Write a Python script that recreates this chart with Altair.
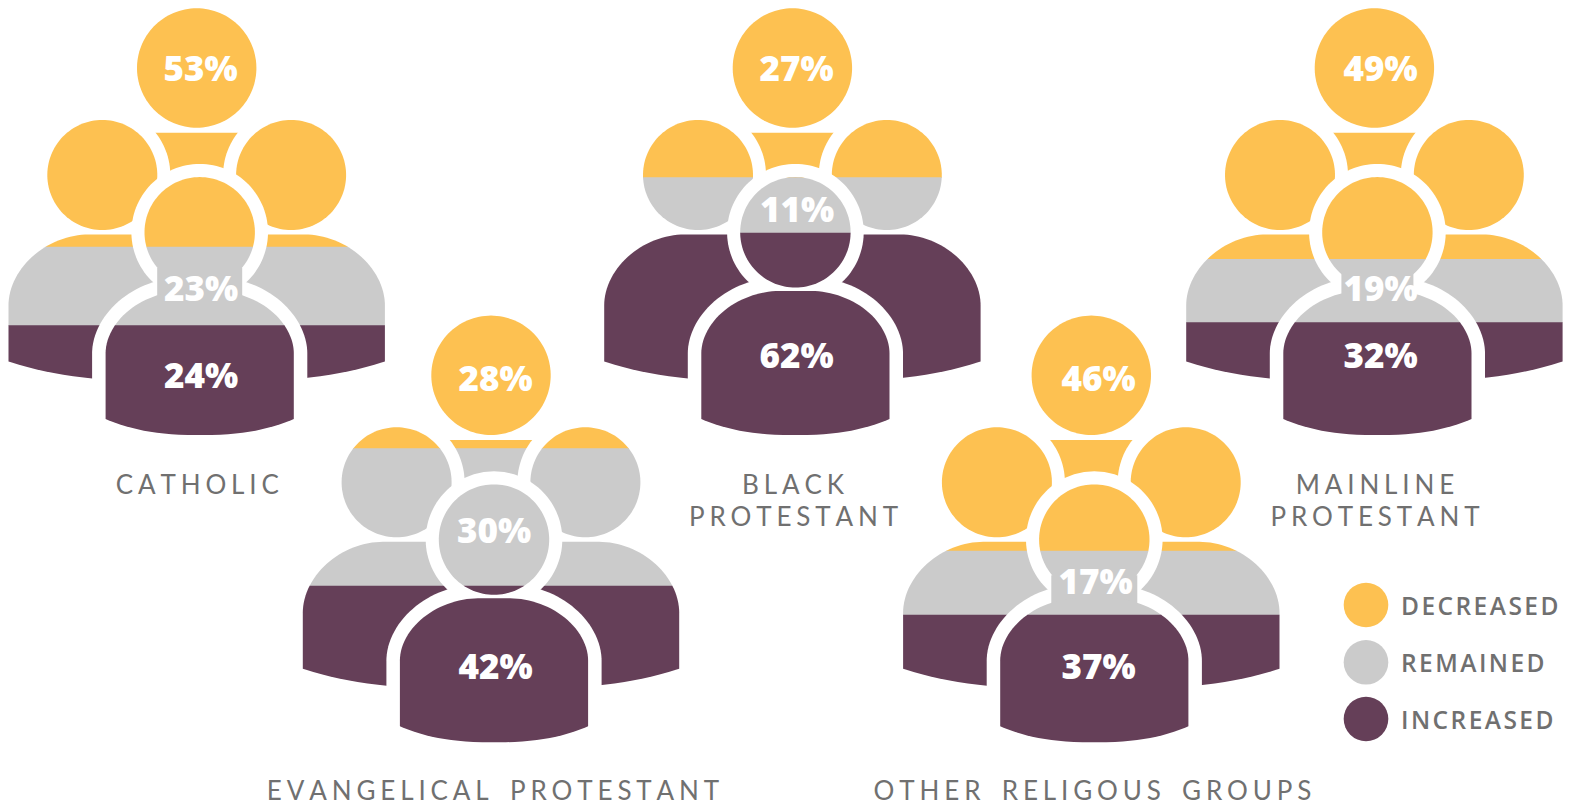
import math

import altair as alt
import numpy as np
import pandas as pd

# Survey shares per religious group, in percent
GROUPS = ["CATHOLIC", "BLACK PROTESTANT", "MAINLINE PROTESTANT",
          "EVANGELICAL PROTESTANT", "OTHER RELIGOUS GROUPS"]
DECREASED = [53, 27, 49, 28, 46]
REMAINED = [23, 11, 19, 30, 17]
INCREASED = [24, 62, 32, 42, 37]

BANDS = ["DECREASED", "REMAINED", "INCREASED"]
COLORS = ["#FDC151", "#CBCBCB", "#653F58"]

# Placement of each people icon and the height where its colour bands change
ICON_CX = [196.7, 792.4, 1374.4, 491.0, 1091.3]
ICON_DY = [0.0, 0.0, 0.0, 307.3, 307.3]
BAND_EDGE_1 = [246.7, 177.3, 259.0, 448.3, 550.7]
BAND_EDGE_2 = [325.3, 232.7, 322.3, 585.7, 614.7]
NECK_HALF = [42.5, 0, 36, 0, 43]

# Anchors of the percentage labels: (x, y) per band per group
PCT_DEC_XY = [(200.5, 69.5), (796.5, 69.5), (1380.5, 69.5), (495.5, 379.5), (1098.5, 379.5)]
PCT_REM_XY = [(201, 289.5), (797.2, 210.5), (1380.5, 290), (494, 531.7), (1095.5, 582.5)]
PCT_INC_XY = [(201, 377), (796.5, 357), (1380.5, 357), (495.5, 667.5), (1098.5, 667.5)]

# Group captions, one row per line of text
CAPTIONS = [
    ("CATHOLIC", 197.3, 494),
    ("BLACK", 793, 494),
    ("PROTESTANT", 793.5, 526),
    ("MAINLINE", 1375, 494),
    ("PROTESTANT", 1375, 526),
    ("EVANGELICAL PROTESTANT", 493, 800),
    ("OTHER RELIGOUS GROUPS", 1092.5, 800),
]

# Colour key rows: label, centre of the swatch
KEY_Y = [605, 662.3, 719]
KEY_SWATCH_X = 1366
KEY_LABEL_X = 1401

HAIR = "\u200a"
GAP = "\u2009\u200a"


def spaced(text):
    # Vega has no letter-spacing, so the tracking comes from narrow spaces
    return (GAP + " " + GAP + GAP).join(GAP.join(word) for word in text.split(" "))


def circle(cx, cy, r):
    def fn(y):
        half = math.sqrt(max(r * r - (y - cy) ** 2, 0))
        return cx - half, cx + half
    return fn, cy - r, cy + r, []


def block(cx, half, top, bottom):
    return (lambda y: (cx - half, cx + half)), top, bottom, []


def body(cx, hw, a, n, top, shoulder, edge, bottom, hem=2.5):
    # Rounded shoulders, straight sides and a shallow curved hem
    def fn(y):
        if y < shoulder:
            dy = min((shoulder - y) / (shoulder - top), 1)
            half = hw - a * (1 - (1 - dy ** n) ** (1 / n))
        elif y <= edge:
            half = hw
        else:
            half = hw * max(1 - (y - edge) / (bottom - edge), 0) ** (1 / hem)
        return cx - half, cx + half
    return fn, top, bottom, [shoulder, edge]


def rows(shape, low, high, piece, band=None, samples=64):
    fn, top, bottom, breaks = shape
    low, high = max(low, top), min(high, bottom)
    if high <= low:
        return []
    t = np.linspace(0, math.pi, samples)
    mid, span = (top + bottom) / 2, (bottom - top) / 2
    ys = set((mid - span * np.cos(t)).round(2).tolist()) | set(breaks) | {low, high}
    out = []
    for y in sorted(v for v in ys if low <= v <= high):
        x0, x1 = fn(y)
        out.append({"piece": piece, "band": band, "y": round(y, 2),
                    "x0": round(x0, 2), "x1": round(x1, 2)})
    return out


def banded(shape, piece, edge1, edge2):
    # Each band runs slightly under the next so no seam shows between them
    limits = [-1e6, edge1, edge2, 1e6]
    out = []
    for i, band in enumerate(BANDS):
        stop = limits[i + 1] + (0.6 if i < 2 else 0)
        out += rows(shape, limits[i], stop, f"{piece}-{i}", band)
    return out


shoulders_rows, head_halo_rows, back_rows, front_halo_rows, front_rows = [], [], [], [], []

for g, (cx, dy, e1, e2, neck) in enumerate(zip(ICON_CX, ICON_DY, BAND_EDGE_1, BAND_EDGE_2, NECK_HALF)):
    fx = cx + 3.0
    left_x, right_x = cx - 94.4, cx + 94.4
    head_y = 175 + dy

    # Rear figure's torso, showing between the two side heads
    shoulders_rows += banded(block(cx, 62, 132.7 + dy, 178 + dy), f"{g}-torso", e1, e2)
    head_halo_rows += rows(circle(left_x, head_y, 68), -1e6, 1e6, f"{g}-hl")
    head_halo_rows += rows(circle(right_x, head_y, 68), -1e6, 1e6, f"{g}-hr")

    back_rows += banded(circle(cx, 68 + dy, 59.7), f"{g}-top", e1, e2)
    back_rows += banded(circle(left_x, head_y, 55), f"{g}-left", e1, e2)
    back_rows += banded(circle(right_x, head_y, 55), f"{g}-right", e1, e2)
    back_rows += banded(body(cx, 188.2, 80, 1.9, 234.5 + dy, 305 + dy, 361.5 + dy, 382 + dy, hem=3),
                        f"{g}-backbody", e1, e2)

    front_halo_rows += rows(circle(fx, 232.3 + dy, 68.3), -1e6, 1e6, f"{g}-fh")
    front_halo_rows += rows(body(fx, 107.6, 90, 1.9, 277.4 + dy, 353 + dy, 419 + dy, 436 + dy),
                            -1e6, 1e6, f"{g}-fb")

    front_rows += banded(circle(fx, 232.3 + dy, 55.2), f"{g}-fronthead", e1, e2)
    if neck:
        front_rows += banded(block(fx, neck, 268 + dy, 296 + dy), f"{g}-neck", e1, e2)
    front_rows += banded(body(fx, 94.1, 78, 1.9, 291 + dy, 353 + dy, 419 + dy, 435 + dy),
                         f"{g}-frontbody", e1, e2)

x_scale = alt.Scale(domain=[0, 1578], nice=False, zero=False)
y_scale = alt.Scale(domain=[805, 0], nice=False, zero=False)
band_color = alt.Color("band:N", scale=alt.Scale(domain=BANDS, range=COLORS), legend=None)
x_enc = alt.X("x:Q", scale=x_scale, axis=None)
y_enc = alt.Y("y:Q", scale=y_scale, axis=None)


def silhouettes(records, color):
    return alt.Chart(pd.DataFrame(records)).mark_area(orient="horizontal", strokeWidth=0).encode(
        x=alt.X("x0:Q", scale=x_scale, axis=None),
        x2="x1:Q",
        y=alt.Y("y:Q", scale=y_scale, axis=None),
        detail="piece:N",
        color=color,
    )


white = alt.value("#FFFFFF")

pct_records = []
for values, anchors in ((DECREASED, PCT_DEC_XY), (REMAINED, PCT_REM_XY), (INCREASED, PCT_INC_XY)):
    for value, (px, py) in zip(values, anchors):
        pct_records.append({"label": f"{value}%", "x": px, "y": py})

percents = alt.Chart(pd.DataFrame(pct_records)).mark_text(
    font="Open Sans", fontWeight=800, fontSize=35, color="#FFFFFF", align="center", baseline="middle"
).encode(x=x_enc, y=y_enc, text="label:N")

captions = alt.Chart(pd.DataFrame(
    [{"label": spaced(t), "x": x, "y": y} for t, x, y in CAPTIONS]
)).mark_text(
    font="Lato", fontSize=26, color="#707070", align="center", baseline="alphabetic"
).encode(x=x_enc, y=y_enc, text="label:N")

key = pd.DataFrame({
    "band": BANDS,
    "label": [HAIR.join(b) for b in BANDS],
    "y": KEY_Y,
    "x": KEY_SWATCH_X,
    "tx": KEY_LABEL_X,
})
key_swatches = alt.Chart(key).mark_circle(size=1990, opacity=1).encode(x=x_enc, y=y_enc, color=band_color)
key_labels = alt.Chart(key).transform_calculate(ty="datum.y + 9.5").mark_text(
    font="Open Sans", fontWeight=600, fontSize=24.5, color="#707070", align="left", baseline="alphabetic"
).encode(
    x=alt.X("tx:Q", scale=x_scale, axis=None),
    y=alt.Y("ty:Q", scale=y_scale, axis=None),
    text="label:N",
)

chart = alt.layer(
    silhouettes(shoulders_rows, band_color),
    silhouettes(head_halo_rows, white),
    silhouettes(back_rows, band_color),
    silhouettes(front_halo_rows, white),
    silhouettes(front_rows, band_color),
    percents,
    captions,
    key_swatches,
    key_labels,
).properties(
    width=1578, height=805, padding=0, background="#FFFFFF",
    autosize=alt.AutoSizeParams(type="none"),
).configure_view(stroke=None)

chart.save("out.html", embed_options={"renderer": "svg", "actions": False})
